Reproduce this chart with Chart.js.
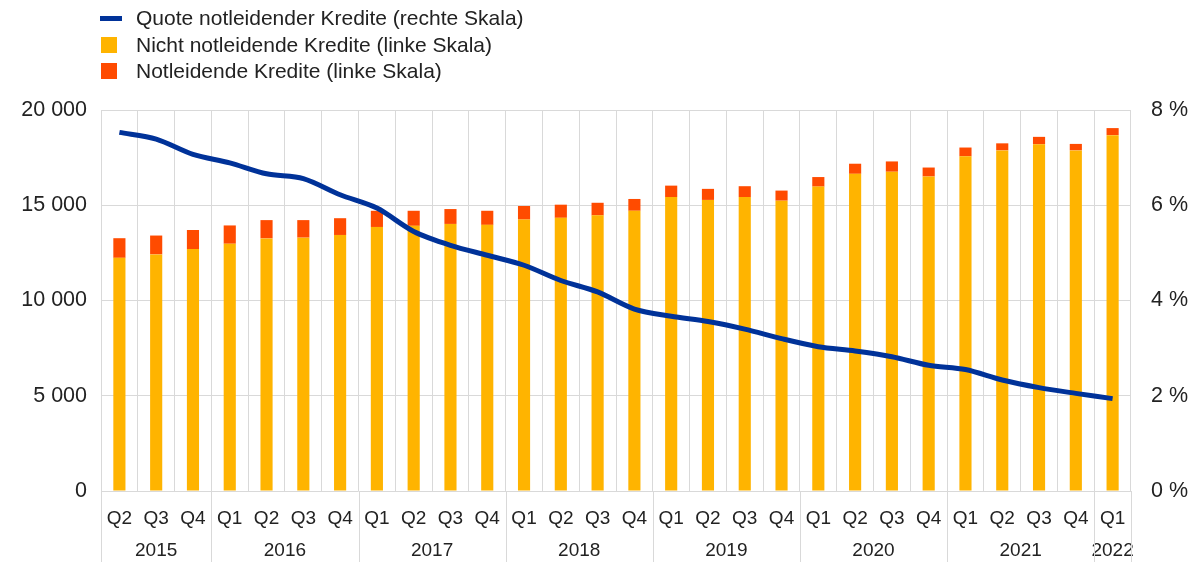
<!DOCTYPE html>
<html>
<head>
<meta charset="utf-8">
<script src="https://cdn.jsdelivr.net/npm/chart.js@4"></script>
<style>
body { margin: 0; background: #fff; font-family: "Liberation Sans", Arial, sans-serif; }
#wrap { position: relative; width: 1198px; height: 562px; }
#legend { position: absolute; left: 100px; top: 5px; font-size: 21px; color: #222; }
.item { display: flex; align-items: center; height: 26.5px; }
.sw { width: 16px; height: 16px; margin-right: 19px; margin-left: 1px; }
.ln { width: 22px; height: 5px; margin-right: 14px; }
</style>
</head>
<body>
<div id="wrap">
  <canvas id="nplChart" width="1198" height="562"></canvas>
  <div id="legend">
    <div class="item"><span class="ln" style="background:#003299"></span>Quote notleidender Kredite (rechte Skala)</div>
    <div class="item"><span class="sw" style="background:#ffb400"></span>Nicht notleidende Kredite (linke Skala)</div>
    <div class="item"><span class="sw" style="background:#ff4b00"></span>Notleidende Kredite (linke Skala)</div>
  </div>
</div>
<script>
const quarters = ['Q2','Q3','Q4','Q1','Q2','Q3','Q4','Q1','Q2','Q3','Q4','Q1','Q2','Q3','Q4',
                  'Q1','Q2','Q3','Q4','Q1','Q2','Q3','Q4','Q1','Q2','Q3','Q4','Q1'];
const years = ['2015','2015','2015','2016','2016','2016','2016','2017','2017','2017','2017',
               '2018','2018','2018','2018','2019','2019','2019','2019','2020','2020','2020','2020',
               '2021','2021','2021','2021','2022'];

// EUR bn, left scale
const performing = [12240, 12420, 12700, 12980, 13260, 13300, 13440, 13860, 13920, 14020, 13970, 14250, 14340, 14470,
                    14710, 15430, 15280, 15430, 15240, 15980, 16650, 16760, 16510, 17570, 17880, 18200, 17880, 18680];
const nonPerforming = [1030, 990, 1000, 960, 960, 920, 880, 850, 790, 780, 740, 710, 690, 660,
                       620, 600, 580, 570, 530, 500, 530, 540, 470, 460, 370, 390, 340, 370];
// percent, right scale
const nplRatio = [7.53, 7.39, 7.07, 6.89, 6.66, 6.56, 6.22, 5.94, 5.45, 5.16, 4.95, 4.74, 4.42, 4.18,
                  3.82, 3.67, 3.56, 3.40, 3.20, 3.03, 2.94, 2.82, 2.64, 2.55, 2.33, 2.17, 2.05, 1.94];

const gridColor = '#d9d9d9';
const textColor = '#222';
const family = '"Liberation Sans", Arial, sans-serif';
const yFont = { family: family, size: 21.5 };
const xFont = { family: family, size: 19 };

// year labels under the quarters + long separators between years
const yearAxis = {
    id: 'yearAxis',
    afterDraw(chart) {
        const ctx = chart.ctx;
        const x = chart.scales.x;
        const area = chart.chartArea;
        const half = (x.getPixelForValue(1) - x.getPixelForValue(0)) / 2;
        ctx.save();
        ctx.strokeStyle = gridColor;
        ctx.lineWidth = 1;
        ctx.fillStyle = textColor;
        ctx.font = xFont.size + 'px ' + xFont.family;
        ctx.textAlign = 'center';
        ctx.textBaseline = 'middle';
        let start = 0;
        for (let i = 1; i <= years.length; i++) {
            if (i === years.length || years[i] !== years[start]) {
                const left = x.getPixelForValue(start) - half;
                const right = x.getPixelForValue(i - 1) + half;
                ctx.fillText(years[start], (left + right) / 2, 551);
                ctx.beginPath();
                ctx.moveTo(Math.round(left) + 0.5, area.bottom);
                ctx.lineTo(Math.round(left) + 0.5, 562);
                ctx.stroke();
                if (i === years.length) {
                    ctx.beginPath();
                    ctx.moveTo(Math.round(right) + 0.5, area.bottom);
                    ctx.lineTo(Math.round(right) + 0.5, 562);
                    ctx.stroke();
                }
                start = i;
            }
        }
        ctx.restore();
    }
};

const fmt = v => String(v).replace(/\B(?=(\d{3})+(?!\d))/g, ' ');

new Chart(document.getElementById('nplChart').getContext('2d'), {
    type: 'bar',
    data: {
        labels: quarters,
        datasets: [{
            type: 'line',
            label: 'Quote notleidender Kredite (rechte Skala)',
            data: nplRatio,
            yAxisID: 'y1',
            borderColor: '#003299',
            borderWidth: 5,
            pointRadius: 0,
            tension: 0.3,
            order: 0
        }, {
            label: 'Nicht notleidende Kredite (linke Skala)',
            data: performing,
            backgroundColor: '#ffb400',
            yAxisID: 'y',
            order: 1
        }, {
            label: 'Notleidende Kredite (linke Skala)',
            data: nonPerforming,
            backgroundColor: '#ff4b00',
            yAxisID: 'y',
            order: 1
        }]
    },
    options: {
        responsive: false,
        animation: false,
        layout: { padding: { top: 110, left: 0, right: 0, bottom: 0 } },
        datasets: { bar: { categoryPercentage: 1, barPercentage: 0.33 } },
        plugins: { legend: { display: false }, tooltip: { enabled: false } },
        scales: {
            x: {
                stacked: true,
                grid: { color: gridColor, drawTicks: false, offset: true },
                border: { display: false },
                ticks: { color: textColor, font: xFont, padding: 16, maxRotation: 0, autoSkip: false },
                afterFit: s => { s.height = 71; }
            },
            y: {
                stacked: true,
                position: 'left',
                min: 0, max: 20000,
                grid: { color: gridColor, drawTicks: false },
                border: { display: false },
                ticks: { stepSize: 5000, color: textColor, font: yFont, padding: 14, callback: v => fmt(v) },
                afterFit: s => { s.width = 101; }
            },
            y1: {
                position: 'right',
                min: 0, max: 8,
                grid: { display: false, drawTicks: false },
                border: { display: false },
                ticks: { stepSize: 2, color: textColor, font: yFont, padding: 20, callback: v => v + ' %' },
                afterFit: s => { s.width = 67; }
            }
        }
    },
    plugins: [yearAxis]
});
</script>
</body>
</html>
